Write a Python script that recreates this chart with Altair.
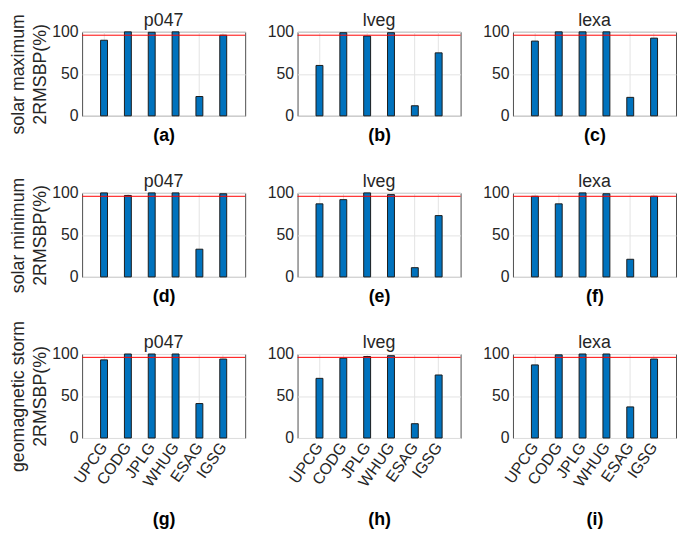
import altair as alt
import pandas as pd

centers = ["UPCG", "CODG", "JPLG", "WHUG", "ESAG", "IGSG"]
stations = ["p047", "lveg", "lexa"]
conditions = ["solar maximum", "solar minimum", "geomagnetic storm"]
panel_tags = [["(a)", "(b)", "(c)"], ["(d)", "(e)", "(f)"], ["(g)", "(h)", "(i)"]]

solar_max_p047 = [90, 100, 99.5, 100, 23, 96]
solar_max_lveg = [60, 99, 95, 99, 12, 75]
solar_max_lexa = [89, 100, 100, 100, 22, 92.5]

solar_min_p047 = [100, 97, 100, 100, 33, 99]
solar_min_lveg = [87, 92, 100, 98, 11, 73]
solar_min_lexa = [96, 87, 100, 99, 21, 96]

storm_p047 = [93, 100, 100, 100, 41, 94]
storm_lveg = [71, 95, 97, 98, 17, 75]
storm_lexa = [87, 99, 100, 100, 37, 94]

threshold = 96

series = [
    [solar_max_p047, solar_max_lveg, solar_max_lexa],
    [solar_min_p047, solar_min_lveg, solar_min_lexa],
    [storm_p047, storm_lveg, storm_lexa],
]

FONT = "Liberation Sans"
W, H = 165, 85

panels = []
for r, cond in enumerate(conditions):
    for c, st in enumerate(stations):
        df = pd.DataFrame({"center": centers, "value": series[r][c]})
        last = r == len(conditions) - 1
        xaxis = alt.Axis(
            title=panel_tags[r][c],
            titleFontWeight="bold",
            titleFontSize=18,
            titleFont=FONT,
            titleColor="black",
            titlePadding=21 if last else 11,
            labels=last,
            labelAngle=305,
            labelFontSize=16,
            labelFont=FONT,
            labelColor="#262626",
            labelPadding=6,
            ticks=False,
            domain=False,
            grid=True,
            gridColor="#e3e3e3",
        )
        yaxis = alt.Axis(
            values=[0, 50, 100],
            title=[cond, "2RMSBP(%)"] if c == 0 else None,
            titleFontSize=18,
            titleFont=FONT,
            titleFontWeight="normal",
            titleColor="#262626",
            titleLineHeight=23,
            titlePadding=2,
            labelFontSize=16,
            labelFont=FONT,
            labelColor="#262626",
            labelPadding=4,
            ticks=False,
            domain=False,
            grid=True,
            gridColor="#e3e3e3",
        )
        bars = alt.Chart(df).mark_bar(
            size=7, color="#0072BD", stroke="#1a1a1a", strokeWidth=1
        ).encode(
            x=alt.X("center:N", sort=centers, axis=xaxis,
                    scale=alt.Scale(paddingInner=0, paddingOuter=0.42)),
            y=alt.Y("value:Q", axis=yaxis,
                    scale=alt.Scale(domain=[0, 100], nice=False)),
        )
        rule = alt.Chart(pd.DataFrame({"t": [threshold]})).mark_rule(
            color="#ff0000", strokeWidth=1
        ).encode(y="t:Q")
        head = alt.Chart(pd.DataFrame({"s": [st]})).mark_text(
            font=FONT, fontSize=18, color="#262626", align="center",
            baseline="alphabetic"
        ).encode(text="s:N", x=alt.value(W / 2), y=alt.value(-6))
        panel = alt.layer(bars, rule, head).properties(width=W, height=H)
        panels.append(panel)

chart = alt.concat(
    *panels, columns=3, bounds="flush",
    spacing=alt.RowColnumber(row=78, column=53),
).configure_view(
    stroke="#4d4d4d", strokeWidth=1
).properties(padding={"left": 0, "top": 0, "right": 0, "bottom": 0})

chart.save("out.html", embed_options={"renderer": "svg", "actions": False})
